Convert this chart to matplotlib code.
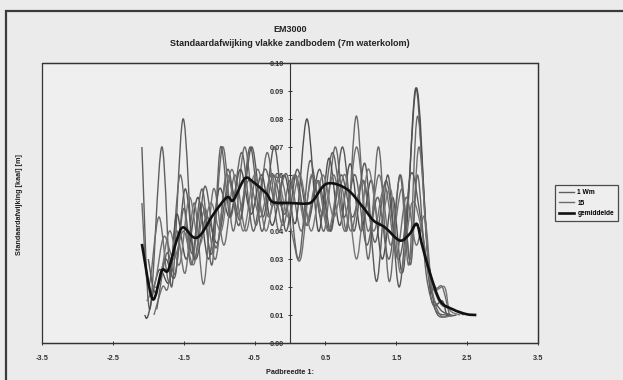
import numpy as np
import matplotlib
matplotlib.use("Agg")
import matplotlib.pyplot as plt
from matplotlib.path import Path
from matplotlib.patches import PathPatch, Rectangle
from matplotlib.lines import Line2D

plt.rcParams['font.family'] = ['Liberation Sans', 'DejaVu Sans']
plt.rcParams['font.weight'] = 'bold'

x_1wm = [-2.09, -1.98, -1.81, -1.67, -1.51, -1.36, -1.20, -1.04, -0.88, -0.72, -0.56, -0.40, -0.24, -0.08,
         0.08, 0.24, 0.40, 0.56, 0.72, 0.88, 1.04, 1.20, 1.36, 1.52, 1.66, 1.78, 1.92, 2.05, 2.25]
y_1wm = [0.070, 0.012, 0.070, 0.020, 0.080, 0.030, 0.056, 0.034, 0.062, 0.042, 0.070, 0.040, 0.060, 0.046,
         0.060, 0.042, 0.058, 0.040, 0.060, 0.045, 0.058, 0.036, 0.058, 0.030, 0.050, 0.091, 0.040, 0.012, 0.010]

x_15 = [-2.09, -2.00, -1.85, -1.70, -1.55, -1.40, -1.25, -1.10, -0.95, -0.80, -0.64, -0.48, -0.32, -0.16,
        0.00, 0.16, 0.32, 0.48, 0.64, 0.80, 0.94, 1.10, 1.25, 1.40, 1.55, 1.68, 1.80, 1.95, 2.05, 2.15, 2.25]
y_15 = [0.050, 0.020, 0.045, 0.022, 0.060, 0.028, 0.050, 0.032, 0.070, 0.040, 0.070, 0.042, 0.068, 0.040,
        0.058, 0.040, 0.060, 0.040, 0.070, 0.040, 0.081, 0.030, 0.070, 0.022, 0.060, 0.028, 0.081, 0.030,
        0.020, 0.020, 0.010]

x_p3 = [-2.05, -2.00, -1.85, -1.70, -1.60, -1.46, -1.30, -1.15, -1.00, -0.85, -0.70, -0.55, -0.40, -0.25,
        -0.08, 0.08, 0.24, 0.40, 0.55, 0.70, 0.85, 1.00, 1.15, 1.30, 1.45, 1.60, 1.78, 1.92, 2.00, 2.15,
        2.22, 2.35]
y_p3 = [0.010, 0.010, 0.026, 0.022, 0.046, 0.030, 0.052, 0.030, 0.055, 0.045, 0.062, 0.046, 0.060, 0.042,
        0.060, 0.043, 0.080, 0.040, 0.066, 0.042, 0.064, 0.040, 0.058, 0.030, 0.052, 0.026, 0.091, 0.040,
        0.015, 0.015, 0.010, 0.010]

x_p4 = [-1.92, -1.80, -1.72, -1.60, -1.48, -1.35, -1.22, -1.08, -0.93, -0.78, -0.62, -0.46, -0.30, -0.14,
        0.02, 0.15, 0.30, 0.46, 0.62, 0.78, 0.94, 1.10, 1.26, 1.42, 1.58, 1.70, 1.82, 1.95, 2.10, 2.30, 2.45]
y_p4 = [0.010, 0.020, 0.020, 0.040, 0.025, 0.050, 0.021, 0.055, 0.035, 0.060, 0.040, 0.062, 0.045, 0.060,
        0.040, 0.030, 0.060, 0.046, 0.060, 0.040, 0.070, 0.040, 0.060, 0.035, 0.055, 0.030, 0.070, 0.030,
        0.015, 0.012, 0.010]

x_p5 = [-2.00, -1.90, -1.76, -1.62, -1.48, -1.34, -1.18, -1.02, -0.86, -0.70, -0.54, -0.38, -0.22, -0.06,
        0.10, 0.26, 0.42, 0.58, 0.74, 0.90, 1.06, 1.22, 1.38, 1.54, 1.70, 1.84, 1.98, 2.12, 2.28]
y_p5 = [0.030, 0.018, 0.030, 0.024, 0.055, 0.030, 0.045, 0.036, 0.058, 0.044, 0.070, 0.045, 0.070, 0.040,
        0.062, 0.045, 0.062, 0.040, 0.070, 0.040, 0.064, 0.022, 0.060, 0.020, 0.060, 0.045, 0.020, 0.012, 0.010]

x_p6 = [-1.95, -1.84, -1.70, -1.56, -1.42, -1.28, -1.12, -0.97, -0.82, -0.66, -0.50, -0.34, -0.18, -0.02,
        0.14, 0.30, 0.46, 0.62, 0.78, 0.94, 1.10, 1.26, 1.42, 1.56, 1.72, 1.86, 2.00, 2.18, 2.25, 2.40]
y_p6 = [0.020, 0.022, 0.040, 0.028, 0.052, 0.035, 0.050, 0.040, 0.062, 0.040, 0.060, 0.040, 0.058, 0.045,
        0.060, 0.040, 0.060, 0.045, 0.060, 0.030, 0.062, 0.042, 0.055, 0.025, 0.050, 0.040, 0.020, 0.020,
        0.012, 0.010]

x_p7 = [-1.88, -1.74, -1.62, -1.50, -1.38, -1.24, -1.10, -0.98, -0.84, -0.68, -0.52, -0.36, -0.20, -0.04,
        0.12, 0.28, 0.44, 0.60, 0.76, 0.92, 1.08, 1.24, 1.40, 1.56, 1.70, 1.80, 1.92, 2.05, 2.20]
y_p7 = [0.012, 0.032, 0.025, 0.048, 0.032, 0.055, 0.028, 0.070, 0.045, 0.068, 0.040, 0.062, 0.050, 0.060,
        0.030, 0.065, 0.045, 0.068, 0.045, 0.060, 0.035, 0.052, 0.030, 0.060, 0.028, 0.060, 0.025, 0.012, 0.010]

x_p8 = [-2.02, -1.90, -1.78, -1.64, -1.50, -1.36, -1.20, -1.05, -0.90, -0.74, -0.58, -0.42, -0.26, -0.10,
        0.06, 0.22, 0.38, 0.54, 0.70, 0.86, 1.02, 1.18, 1.34, 1.50, 1.64, 1.78, 1.90, 2.00, 2.12, 2.30]
y_p8 = [0.015, 0.022, 0.038, 0.030, 0.040, 0.028, 0.048, 0.030, 0.060, 0.046, 0.058, 0.045, 0.060, 0.042,
        0.060, 0.042, 0.058, 0.040, 0.058, 0.040, 0.058, 0.040, 0.056, 0.032, 0.052, 0.035, 0.045, 0.020,
        0.010, 0.010]

# gemiddelde
x_gem = [-2.09, -1.94, -1.81, -1.72, -1.60, -1.51, -1.36, -1.25, -1.08, -0.89, -0.80, -0.64, -0.52, -0.33,
         -0.24, 0.00, 0.24, 0.33, 0.52, 0.80, 1.03, 1.18, 1.34, 1.55, 1.69, 1.79, 1.86, 1.98, 2.12, 2.30,
         2.49, 2.63]
y_gem = [0.0354, 0.0157, 0.0258, 0.0260, 0.0366, 0.0413, 0.0377, 0.0390, 0.0460, 0.0520, 0.0510, 0.0587,
         0.0575, 0.0533, 0.0503, 0.0500, 0.0498, 0.0510, 0.0569, 0.0550, 0.0485, 0.0437, 0.0413, 0.0366,
         0.0390, 0.0425, 0.0354, 0.0246, 0.0150, 0.0120, 0.0103, 0.0100]

series = [(x_1wm, y_1wm, '#5e5e5e'), (x_15, y_15, '#6a6a6a'), (x_p3, y_p3, '#4e4e4e'),
          (x_p4, y_p4, '#707070'), (x_p5, y_p5, '#585858'), (x_p6, y_p6, '#767676'),
          (x_p7, y_p7, '#626262'), (x_p8, y_p8, '#6e6e6e')]

xticks = [-3.5, -2.5, -1.5, -0.5, 0.5, 1.5, 2.5, 3.5]
yticks = [0.00, 0.01, 0.02, 0.03, 0.04, 0.05, 0.06, 0.07, 0.08, 0.09, 0.10]


# vloeiende lijn zoals Excel (Catmull-Rom als Bezier)
def smooth_path(xs, ys):
    p = np.column_stack([xs, ys])
    verts = [p[0]]
    codes = [Path.MOVETO]
    n = len(p)
    for i in range(n - 1):
        p0 = p[i - 1] if i > 0 else p[i]
        p3 = p[i + 2] if i + 2 < n else p[i + 1]
        c1 = p[i] + (p[i + 1] - p0) / 6.
        c2 = p[i + 1] - (p3 - p[i]) / 6.
        verts += [c1, c2, p[i + 1]]
        codes += [Path.CURVE4] * 3
    return Path(verts, codes)


fig = plt.figure(figsize=(6.23, 3.80), dpi=100)
fig.patch.set_facecolor('#ebebeb')
# kader om de hele grafiek
fig.patches.append(Rectangle((6 / 623, -0.05), 1.2, 1 - 11 / 380 + 0.05, transform=fig.transFigure,
                             fill=False, edgecolor='#3a3a3a', linewidth=1.6))

ax = fig.add_axes([42 / 623, 1 - 343 / 380, 496 / 623, 280 / 380])
ax.set_facecolor('#efefef')
ax.set_xlim(-3.5, 3.5)
ax.set_ylim(0, 0.10)

for xs, ys, c in series:
    ax.add_patch(PathPatch(smooth_path(xs, ys), fill=False, edgecolor=c, linewidth=1.0, zorder=2))
ax.add_patch(PathPatch(smooth_path(x_gem, y_gem), fill=False, edgecolor='#111111', linewidth=1.9, zorder=3))

# y-as door x = 0
ax.spines['left'].set_position(('data', 0))
ax.spines['left'].set_color('#333333')
ax.spines['left'].set_zorder(1)
for s in ['top', 'right', 'bottom']:
    ax.spines[s].set_color('#333333')
    ax.spines[s].set_linewidth(0.9)
ax.add_patch(Rectangle((0, 0), 1, 1, transform=ax.transAxes, fill=False, edgecolor='#333333',
                       linewidth=0.9, clip_on=False))

ax.set_xticks(xticks)
ax.set_xticklabels([f'{t:.1f}' for t in xticks])
ax.set_yticks(yticks)
ax.set_yticklabels([f'{t:.2f}' for t in yticks])
ax.tick_params(axis='both', labelsize=5.3, colors='#333333', length=3, width=0.7, direction='inout', pad=3)
ax.tick_params(axis='x', pad=7)

fig.text(290 / 623, 1 - 30 / 380, 'EM3000', ha='center', va='center', fontsize=6.5, fontweight='bold',
         color='#222222')
fig.text(290 / 623, 1 - 43 / 380, 'Standaardafwijking vlakke zandbodem (7m waterkolom)', ha='center',
         va='center', fontsize=6.5, fontweight='bold', color='#222222')
fig.text(290 / 623, 1 - 372 / 380, 'Padbreedte 1:', ha='center', va='center', fontsize=5.2,
         fontweight='bold', color='#222222')
fig.text(20 / 623, 1 - 205 / 380, 'Standaardafwijking [kaal] [m]', ha='center', va='center', rotation=90,
         fontsize=5.2, fontweight='bold', color='#222222')

handles = [Line2D([], [], color='#5e5e5e', linewidth=1.0),
           Line2D([], [], color='#6a6a6a', linewidth=1.0),
           Line2D([], [], color='#111111', linewidth=1.9)]
leg = fig.legend(handles, ['1 Wm', '15', 'gemiddelde'], loc='upper left',
                 bbox_to_anchor=(552 / 623, 1 - 182 / 380), fontsize=4.8, frameon=True, fancybox=False,
                 edgecolor='#222222', facecolor='#efefef', handlelength=2.2, borderpad=0.6,
                 labelspacing=0.5, handletextpad=0.5)
leg.get_frame().set_linewidth(0.9)

fig.savefig('out.png', dpi=100, facecolor=fig.get_facecolor())
